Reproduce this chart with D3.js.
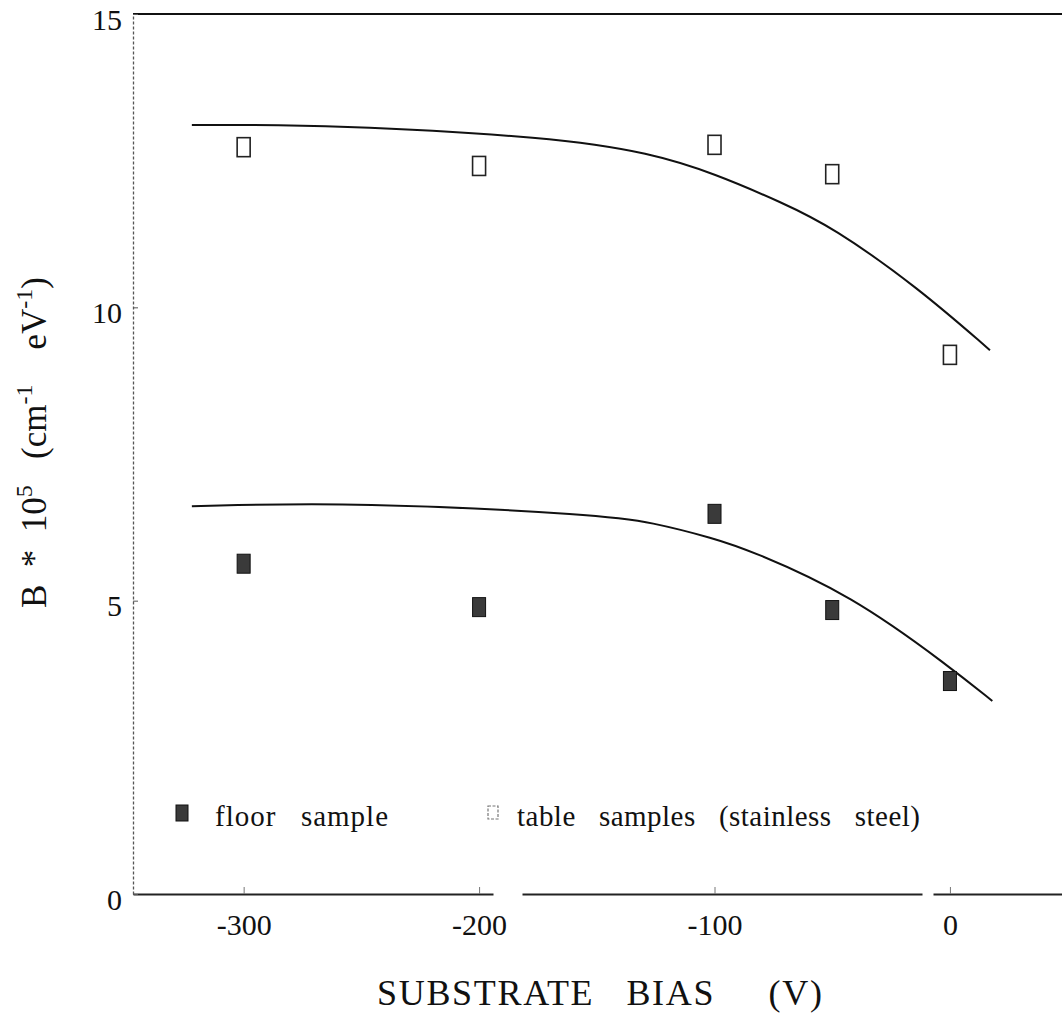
<!DOCTYPE html>
<html>
<head>
<meta charset="utf-8">
<script src="https://cdn.jsdelivr.net/npm/d3@7"></script>
<style>
  html, body { margin: 0; padding: 0; background: #fff; }
  svg { display: block; }
  text { font-family: "Liberation Serif", "Times New Roman", serif; fill: #111; }
</style>
</head>
<body>
<svg id="chart" width="1062" height="1014"></svg>
<script>
// Substrate bias sweep (V)
const biasValues = [-300, -200, -100, -50, 0];
// B * 10^5 (cm^-1 eV^-1) measured on the table samples (stainless steel)
const tableB = [12.73, 12.41, 12.77, 12.27, 9.19];
// B * 10^5 measured on the floor sample
const floorB = [5.63, 4.89, 6.48, 4.84, 3.63];

// Fitted trend lines
const tableFitBias = [-322, -261, -169, -127, -100, -71, -50, -14, 17];
const tableFitB = [13.11, 13.11, 12.90, 12.63, 12.28, 11.78, 11.37, 10.35, 9.27];
const floorFitBias = [-322, -251, -148, -127, -100, -85, -42, 0, 18];
const floorFitB = [6.61, 6.68, 6.46, 6.34, 6.06, 5.86, 5.10, 3.87, 3.29];

const xTicks = [-300, -200, -100, 0];
const yTicks = [0, 5, 10, 15];

(function drawChart() {
  const svg = d3.select("#chart");
  const plotLeft = 133, plotRight = 1062, plotTop = 14, plotBottom = 894;
  const serif = "'Liberation Serif', 'Times New Roman', serif";

  const x = d3.scaleLinear().domain([-347, 47.6]).range([plotLeft, plotRight]);
  const y = d3.scaleLinear().domain([0, 15]).range([plotBottom, plotTop]);

  // Frame: top rule, bottom axis, dotted left axis
  svg.append("line")
    .attr("x1", plotLeft).attr("x2", plotRight).attr("y1", y(15)).attr("y2", y(15))
    .attr("stroke", "#111").attr("stroke-width", 2);

  const xAxis = svg.append("g")
    .attr("transform", `translate(0,${plotBottom})`)
    .call(d3.axisBottom(x).tickValues(xTicks).tickSizeInner(-7).tickSizeOuter(0).tickPadding(20)
      .tickFormat(d => String(d)));
  // the printed baseline has two small breaks in it
  xAxis.select(".domain").attr("stroke", "#222").attr("stroke-width", 1.8)
    .attr("stroke-dasharray", "360,29,400,11,300");
  xAxis.selectAll(".tick line").attr("stroke", "#777").attr("stroke-width", 1);
  xAxis.selectAll(".tick text")
    .style("font-family", serif)
    .attr("font-size", 30).attr("fill", "#111").attr("dy", "0.71em");

  const yAxis = svg.append("g")
    .attr("transform", `translate(${plotLeft},0)`)
    .call(d3.axisLeft(y).tickValues(yTicks).tickSizeInner(-5).tickSizeOuter(0).tickPadding(11)
      .tickFormat(d => String(d)));
  yAxis.select(".domain").attr("stroke", "#555").attr("stroke-width", 1.3)
    .attr("stroke-dasharray", "3,2");
  yAxis.selectAll(".tick line").attr("stroke", "#555").attr("stroke-width", 1);
  yAxis.selectAll(".tick text")
    .style("font-family", serif)
    .attr("font-size", 30).attr("fill", "#111").attr("dy", "0.5em");

  // Fitted curves
  const line = d3.line().x(d => x(d[0])).y(d => y(d[1])).curve(d3.curveBasis);
  svg.append("path")
    .datum(d3.zip(tableFitBias, tableFitB))
    .attr("d", line).attr("fill", "none").attr("stroke", "#111").attr("stroke-width", 2);
  svg.append("path")
    .datum(d3.zip(floorFitBias, floorFitB))
    .attr("d", line).attr("fill", "none").attr("stroke", "#111").attr("stroke-width", 2);

  // Markers
  const mw = 13, mh = 19;
  svg.append("g").selectAll("rect")
    .data(d3.zip(biasValues, tableB))
    .join("rect")
    .attr("x", d => x(d[0]) - mw / 2).attr("y", d => y(d[1]) - mh / 2)
    .attr("width", mw).attr("height", mh)
    .attr("fill", "#fff").attr("stroke", "#222").attr("stroke-width", 1.6);

  svg.append("g").selectAll("rect")
    .data(d3.zip(biasValues, floorB))
    .join("rect")
    .attr("x", d => x(d[0]) - mw / 2).attr("y", d => y(d[1]) - mh / 2)
    .attr("width", mw).attr("height", mh)
    .attr("fill", "#3a3a3a").attr("stroke", "#111").attr("stroke-width", 1);

  // Legend
  const legend = svg.append("g");
  legend.append("rect").attr("x", 176).attr("y", 805).attr("width", 12).attr("height", 16)
    .attr("fill", "#3a3a3a").attr("stroke", "#111").attr("stroke-width", 1);
  legend.append("text").attr("x", 215).attr("y", 826).attr("font-size", 29)
    .attr("xml:space", "preserve").attr("textLength", 173).attr("lengthAdjust", "spacing")
    .text("floor   sample");
  legend.append("rect").attr("x", 488).attr("y", 806).attr("width", 10).attr("height", 13)
    .attr("fill", "#fff").attr("stroke", "#777").attr("stroke-width", 1.2).attr("stroke-dasharray", "3,1.5");
  legend.append("text").attr("x", 517).attr("y", 826).attr("font-size", 29)
    .attr("xml:space", "preserve").attr("textLength", 403).attr("lengthAdjust", "spacing")
    .text("table   samples   (stainless   steel)");

  // Axis titles
  svg.append("text").attr("x", 377).attr("y", 1005).attr("font-size", 36)
    .attr("xml:space", "preserve").attr("textLength", 445).attr("lengthAdjust", "spacing")
    .text("SUBSTRATE   BIAS     (V)");

  const yTitle = svg.append("text")
    .attr("transform", "translate(46,608) rotate(-90)")
    .attr("font-size", 35).attr("xml:space", "preserve");
  yTitle.append("tspan").text("B  *  10");
  yTitle.append("tspan").attr("font-size", 24).attr("dy", -14).text("5");
  yTitle.append("tspan").attr("dy", 14).text("   (cm");
  yTitle.append("tspan").attr("font-size", 24).attr("dy", -14).text("-1");
  yTitle.append("tspan").attr("dy", 14).text("    eV");
  yTitle.append("tspan").attr("font-size", 24).attr("dy", -14).text("-1");
  yTitle.append("tspan").attr("dy", 14).text(")");
})();
</script>
</body>
</html>
